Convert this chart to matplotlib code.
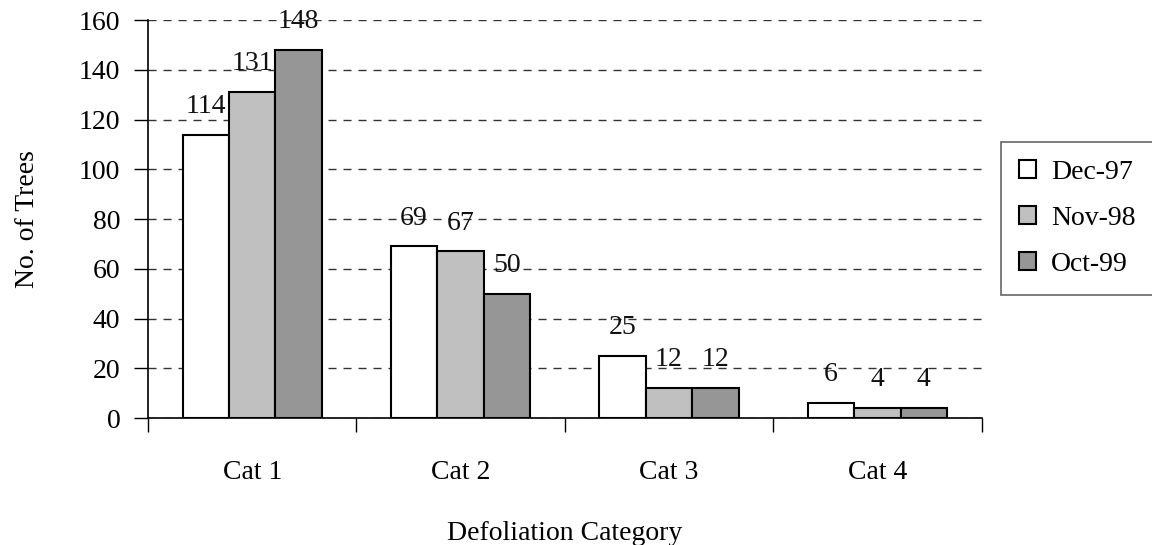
import numpy as np
import matplotlib
matplotlib.use('Agg')
import matplotlib.pyplot as plt

categories = ['Cat 1', 'Cat 2', 'Cat 3', 'Cat 4']
series_names = ['Dec-97', 'Nov-98', 'Oct-99']
dec97 = [114, 69, 25, 6]
nov98 = [131, 67, 12, 4]
oct99 = [148, 50, 12, 4]
colors = ['#ffffff', '#c0c0c0', '#969696']

plt.rcParams['font.family'] = ['Liberation Serif', 'DejaVu Serif']

fig = plt.figure(figsize=(11.52, 5.45), dpi=100)
ax = fig.add_axes([0.1285, 0.233, 0.7235, 0.730])

x = np.arange(len(categories))
width = 0.223
for i, (name, vals) in enumerate(zip(series_names, [dec97, nov98, oct99])):
    pos = x + (i - 1) * width
    ax.bar(pos, vals, width, color=colors[i], edgecolor='black', linewidth=1.5,
           label=name, zorder=3)
    for p, v in zip(pos, vals):
        ax.text(p, v + 8.8, str(v), ha='center', va='baseline', fontsize=20,
                color='#111111', zorder=4)

ax.set_xlim(-0.5, 3.5)
ax.set_ylim(0, 160)
ax.set_yticks(range(0, 161, 20))
ax.set_xticks(np.arange(-0.5, 3.6, 1))
ax.set_xticklabels([])
ax.set_xticks(x, minor=True)
ax.set_xticklabels(categories, minor=True)
ax.tick_params(axis='x', which='major', direction='out', length=10, width=1)
ax.tick_params(axis='x', which='minor', length=0, pad=30, labelsize=20)
ax.tick_params(axis='y', direction='out', length=10, width=1, labelsize=20, pad=10)

ax.yaxis.grid(True, linestyle=(0, (5.8, 5.0)), color='#333333', linewidth=1.0, zorder=0)
ax.set_axisbelow(True)
for s in ['top', 'right']:
    ax.spines[s].set_visible(False)
ax.spines['left'].set_linewidth(1.2)
ax.spines['bottom'].set_linewidth(1.2)

ax.set_ylabel('No. of Trees', fontsize=20, va='center')
ax.yaxis.set_label_coords(-0.145, 0.5)
ax.set_xlabel('Defoliation Category', fontsize=20, va='center')
ax.xaxis.set_label_coords(0.5, -0.29)

leg = fig.legend(loc='upper left', bbox_to_anchor=(1001 / 1152, 1 - 142 / 545),
                 fontsize=20, frameon=True, fancybox=False, edgecolor='#404040',
                 handlelength=0.6, handleheight=0.6, handletextpad=0.55,
                 labelspacing=0.75, borderpad=0.65, borderaxespad=0)
leg.get_frame().set_linewidth(1.2)

fig.savefig('out.png', dpi=100)
